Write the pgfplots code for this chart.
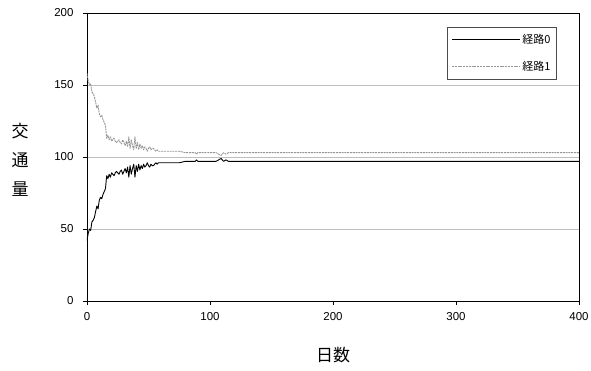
\documentclass[border=0pt]{standalone}
\usepackage{fontspec}
\setmainfont{Liberation Sans}
\newfontfamily\jp{Noto Sans CJK JP}
\usepackage{pgfplots}
\pgfplotsset{compat=1.18}
\usepackage{pgfplotstable}
\definecolor{gridgray}{RGB}{190,190,190}
\definecolor{sergray}{RGB}{150,150,150}
\pgfplotstableread{
day val
0 42
1 47
2 50
3 49
4 55
5 56
6 58
7 62
8 66
9 64
10 70
11 72
12 71
13 74
14 76
15 78
16 87
17 85
18 88
19 86
20 89
21 88
22 87
23 89
24 90
25 89
26 88
27 90
28 91
29 88
30 90
31 92
32 89
33 93
34 86
35 94
36 88
37 92
38 95
39 86
40 94
41 90
42 95
43 91
44 94
45 92
46 95
47 93
48 94
49 96
50 94
51 93
52 95
53 94
54 94
55 95
56 96
57 95
58 96
59 96
60 96
62 96
65 96
70 96
75 96
80 97
85 97
88 97
89 98
90 97
100 97
105 97
107 98
109 99
111 97
113 98
115 97
117 97
120 97
400 97
}\routezero
\pgfplotstableread{
day val
0 158
1 153
2 150
3 151
4 145
5 144
6 142
7 138
8 134
9 136
10 130
11 128
12 129
13 126
14 124
15 122
16 113
17 115
18 112
19 114
20 111
21 112
22 113
23 111
24 110
25 111
26 112
27 110
28 109
29 112
30 110
31 108
32 111
33 107
34 114
35 106
36 112
37 108
38 105
39 114
40 106
41 110
42 105
43 109
44 106
45 108
46 105
47 107
48 106
49 104
50 106
51 107
52 105
53 106
54 106
55 105
56 104
57 105
58 104
59 104
60 104
62 104
65 104
70 104
75 104
80 103
85 103
88 103
89 102
90 103
100 103
105 103
107 102
109 101
111 103
113 102
115 103
117 103
120 103
400 103
}\routeone
\begin{document}
\begin{tikzpicture}
\useasboundingbox (-87pt,-70pt) rectangle (504pt,301pt);
\begin{axis}[
  at={(0pt,0pt)}, anchor=south west,
  scale only axis,
  width=492pt, height=288pt,
  xmin=0, xmax=400, ymin=0, ymax=200,
  xtick={0,100,200,300,400},
  ytick={0,50,100,150,200},
  tick pos=left,
  tick align=outside,
  major tick length=4pt,
  ymajorgrids,
  grid style={gridgray, line width=0.8pt},
  axis line style={black, line width=0.8pt},
  tick style={black, line width=0.8pt},
  /pgf/number format/assume math mode=true,
  ticklabel style={font=\fontsize{11.5}{13}\selectfont},
  xticklabel style={yshift=-4pt},
  yticklabel style={xshift=-6pt},
  xlabel={日数},
  xlabel style={font=\jp\fontsize{17}{20}\selectfont, at={(axis description cs:0.5,-0.1875)}, anchor=center},
  ylabel={交\\通\\量},
  ylabel style={font=\jp\fontsize{17}{29}\selectfont, align=center, rotate=-90, at={(axis description cs:-0.136,0.49)}, anchor=center},
  legend style={at={(0.955,0.951)}, anchor=north east, draw=black!70, line width=0.6pt,
    font=\jp\fontsize{11}{12}\selectfont, row sep=12pt, inner xsep=4pt, inner ysep=5pt},
  legend cell align=left,
  legend image code/.code={\draw[#1] (0pt,0pt) -- (68pt,0pt);},
]
\addplot[black, line width=0.9pt, line join=round] table[x=day,y=val] {\routezero};
\addlegendentry{経路0}
\addplot[sergray, line width=0.9pt, dash pattern=on 2pt off 0.8pt, line join=round] table[x=day,y=val] {\routeone};
\addlegendentry{経路1}
\end{axis}
\end{tikzpicture}
\end{document}
